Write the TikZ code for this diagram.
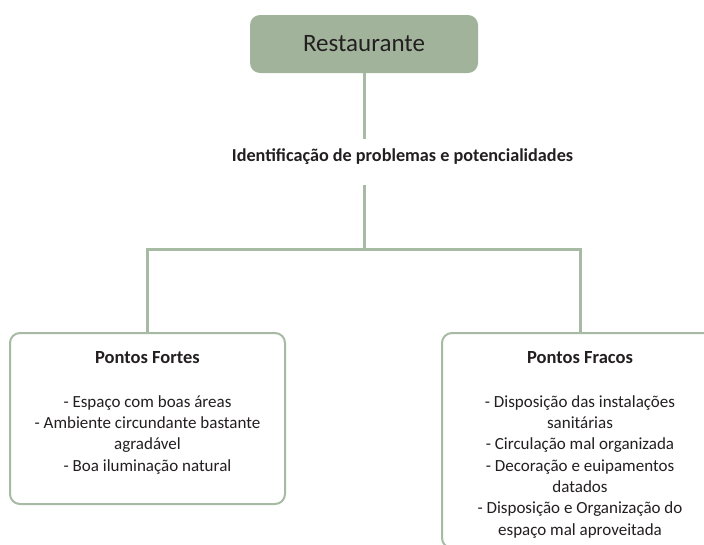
\documentclass[tikz,border=0pt]{standalone}
\usepackage{fontspec}
\setmainfont{Carlito}
\usetikzlibrary{positioning}
\definecolor{sage}{RGB}{162,179,156}
\definecolor{sageline}{RGB}{167,186,163}
\definecolor{ink}{RGB}{35,31,32}

\begin{document}
\begin{tikzpicture}[x=1pt, y=-1pt, font=\fontsize{17}{21.3}\selectfont, text=ink,
    box/.style={draw=sageline, line width=2pt, rounded corners=10pt, fill=white},
    head/.style={font=\fontsize{18.5}{21}\selectfont\bfseries},
    items/.style={align=center, inner sep=0pt},
    link/.style={draw=sageline, line width=3pt}]
    \useasboundingbox (0,0) rectangle (704,544);
    \clip (0,0) rectangle (704,544);

    % Define nodes
    \node[fill=sage, rounded corners=10pt, minimum width=228, minimum height=58,
          font=\fontsize{25}{28}\selectfont] (rest) at (364,44) {Restaurante};
    \node[head, font=\fontsize{18.2}{20}\selectfont\bfseries] (ident) at (402.5,157)
        {Identificação de problemas e potencialidades};

    \node[box, minimum width=275, minimum height=171] (fortes) at (147.5,418.5) {};
    \node[head, below=16pt of fortes.north] (fortesT) {Pontos Fortes};
    \node[items, below=28pt of fortesT] (fortesL)
        {- Espaço com boas áreas\\
         - Ambiente circundante bastante\\
         agradável\\
         - Boa iluminação natural};

    \node[box, minimum width=276, minimum height=215] (fracos) at (580,440.5) {};
    \node[head, below=16pt of fracos.north] (fracosT) {Pontos Fracos};
    \node[items, below=28pt of fracosT] (fracosL)
        {- Disposição das instalações\\
         sanitárias\\
         - Circulação mal organizada\\
         - Decoração e euipamentos\\
         datados\\
         - Disposição e Organização do\\
         espaço mal aproveitada};

    \coordinate (gapTop) at (364,139);
    \coordinate (gapBot) at (364,185);
    \coordinate (split) at (364,249);

    % Connectors
    \draw[link] (rest.south) -- (gapTop);
    \draw[link] (gapBot) -- (split);
    \draw[link, line join=miter] (fortes.north) |- (split) -| (fracos.north);

\end{tikzpicture}
\end{document}
